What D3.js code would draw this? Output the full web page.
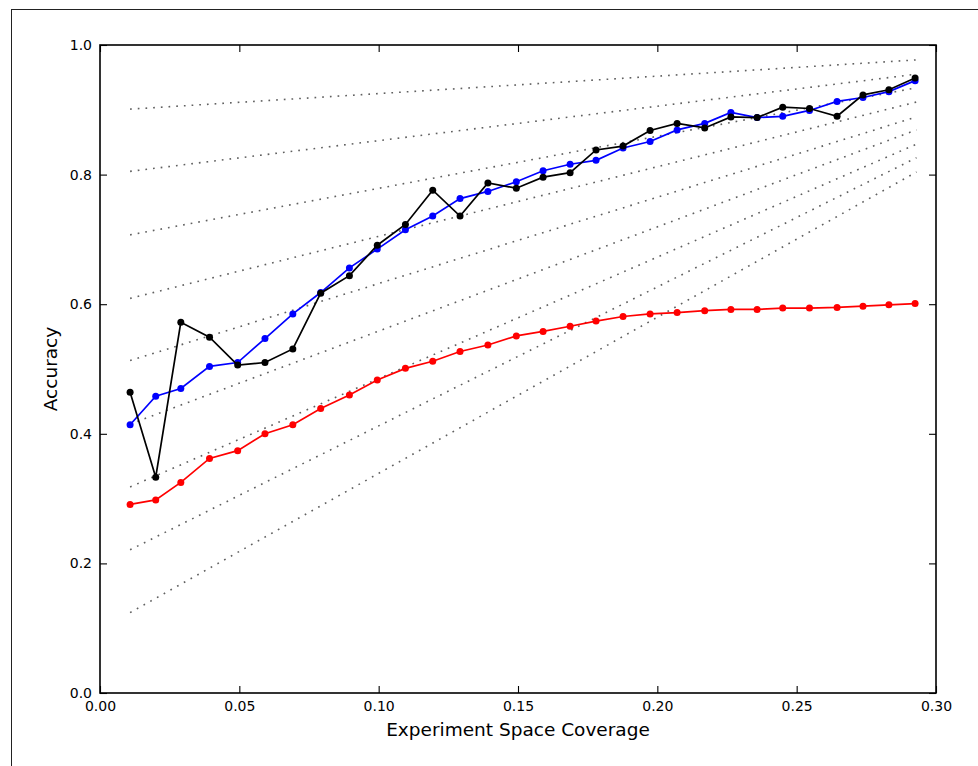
<!DOCTYPE html>
<html>
<head>
<meta charset="utf-8">
<script src="https://cdn.jsdelivr.net/npm/d3@7"></script>
<style>
  body { margin: 0; background: #fff; }
  text { font-family: "DejaVu Sans", sans-serif; fill: #000; }
</style>
</head>
<body>
<svg width="978" height="766"></svg>
<script>
// Data
const coverage = [0.0108, 0.0200, 0.0290, 0.0393, 0.0494, 0.0592, 0.0692, 0.0792, 0.0895, 0.0995,
  0.1096, 0.1194, 0.1292, 0.1392, 0.1494, 0.1590, 0.1687, 0.1780, 0.1877, 0.1974,
  0.2071, 0.2170, 0.2264, 0.2358, 0.2450, 0.2546, 0.2645, 0.2738, 0.2831, 0.2925];

const redAcc = [0.291, 0.298, 0.325, 0.362, 0.374, 0.400, 0.414, 0.439, 0.460, 0.483,
  0.501, 0.512, 0.527, 0.537, 0.551, 0.558, 0.566, 0.574, 0.581, 0.585,
  0.587, 0.590, 0.592, 0.592, 0.594, 0.594, 0.595, 0.597, 0.599, 0.601];

const blueAcc = [0.414, 0.458, 0.470, 0.504, 0.510, 0.547, 0.585, 0.618, 0.656, 0.685,
  0.715, 0.736, 0.763, 0.774, 0.789, 0.806, 0.816, 0.822, 0.841, 0.851,
  0.869, 0.879, 0.896, 0.888, 0.890, 0.899, 0.913, 0.919, 0.928, 0.945];

const blackAcc = [0.464, 0.333, 0.572, 0.549, 0.506, 0.510, 0.531, 0.617, 0.644, 0.691,
  0.723, 0.776, 0.736, 0.787, 0.779, 0.796, 0.803, 0.838, 0.844, 0.868,
  0.879, 0.872, 0.889, 0.888, 0.904, 0.902, 0.890, 0.923, 0.931, 0.949];

// dotted reference lines: value at left end and right end
const refX = [0.0108, 0.2930];
const refStart = [0.901, 0.805, 0.707, 0.609, 0.513, 0.415, 0.318, 0.221, 0.124];
const refEnd = [0.977, 0.955, 0.934, 0.912, 0.889, 0.869, 0.847, 0.826, 0.804];

const xTicks = [0, 0.05, 0.10, 0.15, 0.20, 0.25, 0.30];
const yTicks = [0, 0.2, 0.4, 0.6, 0.8, 1.0];

// The svg
const svg = d3.select("svg");
const plotL = 100, plotR = 936, plotT = 45, plotB = 693;

// outer frame
svg.append("rect")
  .attr("x", 11.5).attr("y", 9.5)
  .attr("width", 1000).attr("height", 800)
  .attr("fill", "none").attr("stroke", "#222").attr("stroke-width", 1);

const x = d3.scaleLinear().domain([0, 0.3]).range([plotL, plotR]);
const y = d3.scaleLinear().domain([0, 1]).range([plotB, plotT]);

// dotted reference lines
svg.append("g")
  .selectAll("line")
  .data(refStart)
  .enter()
  .append("line")
  .attr("x1", x(refX[0]))
  .attr("x2", x(refX[1]))
  .attr("y1", d => y(d))
  .attr("y2", (d, i) => y(refEnd[i]))
  .attr("stroke", "#606060")
  .attr("stroke-width", 1.6)
  .attr("stroke-dasharray", "1.7,6");

// series
const series = [
  { values: redAcc, color: "#ff0000" },
  { values: blueAcc, color: "#0000ff" },
  { values: blackAcc, color: "#000000" }
];

const line = d3.line()
  .x((d, i) => x(coverage[i]))
  .y(d => y(d));

series.forEach(function (s) {
  const g = svg.append("g");
  g.append("path")
    .attr("d", line(s.values))
    .attr("fill", "none")
    .attr("stroke", s.color)
    .attr("stroke-width", 1.7);
  g.selectAll("circle")
    .data(s.values)
    .enter()
    .append("circle")
    .attr("cx", (d, i) => x(coverage[i]))
    .attr("cy", d => y(d))
    .attr("r", 3.5)
    .attr("fill", s.color);
});

// axes: ticks inward on all sides
const tickLen = 7;
svg.append("g")
  .attr("transform", `translate(0,${plotB})`)
  .call(d3.axisBottom(x).tickValues(xTicks).tickFormat(d3.format(".2f")).tickSizeInner(-tickLen).tickSizeOuter(0).tickPadding(8))
  .call(g => g.select(".domain").remove())
  .call(g => g.selectAll("text").attr("font-size", "14px"));

svg.append("g")
  .attr("transform", `translate(0,${plotT})`)
  .call(d3.axisTop(x).tickValues(xTicks).tickFormat("").tickSizeInner(-tickLen).tickSizeOuter(0))
  .call(g => g.select(".domain").remove());

svg.append("g")
  .attr("transform", `translate(${plotL},0)`)
  .call(d3.axisLeft(y).tickValues(yTicks).tickFormat(d3.format(".1f")).tickSizeInner(-tickLen).tickSizeOuter(0).tickPadding(8))
  .call(g => g.select(".domain").remove())
  .call(g => g.selectAll("text").attr("font-size", "14px"));

svg.append("g")
  .attr("transform", `translate(${plotR},0)`)
  .call(d3.axisRight(y).tickValues(yTicks).tickFormat("").tickSizeInner(-tickLen).tickSizeOuter(0))
  .call(g => g.select(".domain").remove());

svg.selectAll(".tick line").attr("stroke", "#000").attr("stroke-width", 1.1);
svg.selectAll(".tick text").attr("fill", "#000").attr("font-family", "DejaVu Sans, sans-serif");

// plot frame
svg.append("rect")
  .attr("x", plotL).attr("y", plotT)
  .attr("width", plotR - plotL).attr("height", plotB - plotT)
  .attr("fill", "none").attr("stroke", "#000").attr("stroke-width", 1.6);

// axis labels
svg.append("text")
  .attr("x", (plotL + plotR) / 2)
  .attr("y", 736)
  .attr("text-anchor", "middle")
  .attr("font-size", "18.5px")
  .text("Experiment Space Coverage");

svg.append("text")
  .attr("transform", `translate(57,${(plotT + plotB) / 2}) rotate(-90)`)
  .attr("text-anchor", "middle")
  .attr("font-size", "18.5px")
  .text("Accuracy");
</script>
</body>
</html>
